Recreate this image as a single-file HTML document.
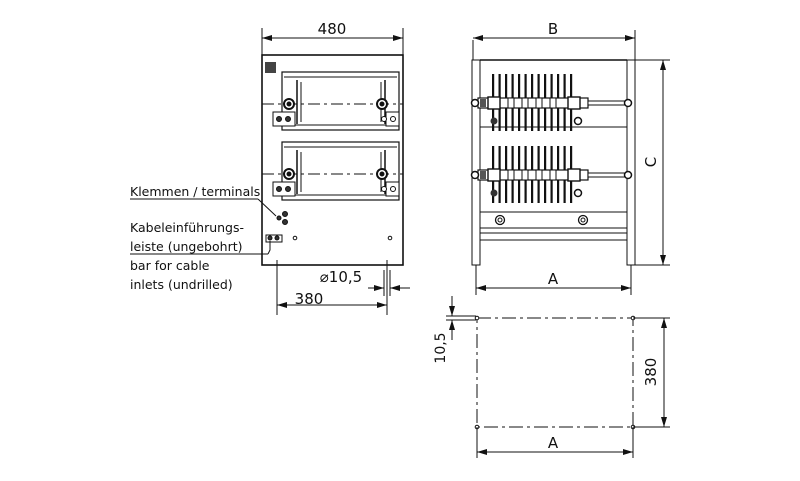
<!DOCTYPE html>
<html><head><meta charset="utf-8"><style>
html,body{margin:0;padding:0;background:#fff;}
svg{display:block;}
text{font-family:"DejaVu Sans","Liberation Sans",sans-serif;fill:#111;}
</style></head><body>
<svg width="800" height="481" viewBox="0 0 800 481" xmlns="http://www.w3.org/2000/svg">
<defs>
<marker id="a" viewBox="0 0 10 6" refX="10" refY="3" markerWidth="10" markerHeight="6" orient="auto-start-reverse" markerUnits="userSpaceOnUse"><path d="M0,0L10,3L0,6z" fill="#111"/></marker>
<g id="fin"><rect x="-1" y="0" width="2.2" height="57" fill="#111"/></g>
<g id="res">
 <rect x="478" y="-5" width="110" height="10" fill="#fff" stroke="#111" stroke-width="1.2"/>
 <rect x="488" y="-6" width="12" height="12" fill="#fff" stroke="#111" stroke-width="1.4"/>
 <rect x="568" y="-6" width="12" height="12" fill="#fff" stroke="#111" stroke-width="1.4"/>
 <rect x="508" y="-5" width="6" height="10" fill="#fff" stroke="#111"/>
 <rect x="522" y="-5" width="6" height="10" fill="#fff" stroke="#111"/>
 <rect x="536" y="-5" width="6" height="10" fill="#fff" stroke="#111"/>
 <rect x="550" y="-5" width="6" height="10" fill="#fff" stroke="#111"/>
 <rect x="480" y="-4" width="6" height="8" fill="#555"/>
 <rect x="588" y="-2" width="38" height="4" fill="#fff" stroke="#111"/>
 <circle cx="628" cy="0" r="3.5" fill="#fff" stroke="#111" stroke-width="1.5"/>
 <circle cx="475" cy="0" r="3.5" fill="#fff" stroke="#111" stroke-width="1.5"/>
 <circle cx="494" cy="18" r="3.5" fill="#333"/>
 <circle cx="578" cy="18" r="3.5" fill="#fff" stroke="#111" stroke-width="1.5"/>
</g>
<g id="frame">
 <rect x="282" y="0" width="117" height="58" fill="none" stroke="#111" stroke-width="1.2"/>
 <line x1="284" y1="5" x2="397" y2="5" stroke="#111"/>
 <line x1="284" y1="53" x2="397" y2="53" stroke="#111"/>
 <line x1="297" y1="8" x2="297" y2="52" stroke="#111" stroke-width="1.5"/>
 <line x1="301" y1="10" x2="301" y2="50" stroke="#111"/>
 <line x1="381" y1="10" x2="381" y2="50" stroke="#111"/>
 <line x1="385" y1="8" x2="385" y2="52" stroke="#111" stroke-width="1.5"/>
 <line x1="262" y1="32" x2="403" y2="32" stroke="#111" stroke-dasharray="12,4,3,4"/>
 <circle cx="289" cy="32" r="5" fill="#fff" stroke="#111" stroke-width="2"/><circle cx="289" cy="32" r="2" fill="#111"/>
 <circle cx="382" cy="32" r="5" fill="#fff" stroke="#111" stroke-width="2"/><circle cx="382" cy="32" r="2" fill="#111"/>
 <rect x="273" y="40" width="22" height="14" fill="#fff" stroke="#111"/>
 <rect x="386" y="40" width="13" height="14" fill="#fff" stroke="#111"/>
 <circle cx="279" cy="47" r="2.5" fill="#333"/><circle cx="288" cy="47" r="2.5" fill="#333"/>
 <circle cx="384" cy="47" r="2.5" fill="#fff" stroke="#111"/><circle cx="393" cy="47" r="2.5" fill="#fff" stroke="#111"/>
</g>
</defs>
<g stroke="#111" fill="none" stroke-width="1">
<!-- LEFT VIEW -->
<rect x="262" y="55" width="141" height="210" stroke-width="1.6"/>
<rect x="265" y="62" width="11" height="11" fill="#444" stroke="none"/>
<line x1="262" y1="28" x2="262" y2="55"/><line x1="403" y1="28" x2="403" y2="55"/>
<line x1="262" y1="38" x2="403" y2="38" marker-start="url(#a)" marker-end="url(#a)"/>
<use href="#frame" y="72"/>
<use href="#frame" y="142"/>
<circle cx="279" cy="218" r="2" fill="#333"/>
<circle cx="285" cy="214" r="2.5" fill="#333"/><circle cx="285" cy="222" r="2.5" fill="#333"/>
<rect x="266" y="235" width="16" height="7" fill="#fff"/>
<circle cx="270" cy="238" r="2" fill="#333"/><circle cx="277" cy="238" r="2" fill="#333"/>
<circle cx="295" cy="238" r="1.8"/><circle cx="390" cy="238" r="1.8"/>
<line x1="277" y1="260" x2="277" y2="315"/><line x1="387" y1="260" x2="387" y2="315"/>
<line x1="384" y1="270" x2="384" y2="296"/><line x1="390" y1="270" x2="390" y2="296"/>
<line x1="277" y1="305" x2="387" y2="305" marker-start="url(#a)" marker-end="url(#a)"/>
<line x1="368" y1="288" x2="384" y2="288" marker-end="url(#a)"/>
<line x1="410" y1="288" x2="390" y2="288" marker-end="url(#a)"/>
<!-- leaders -->
<line x1="130" y1="199" x2="258" y2="199"/><line x1="258" y1="199" x2="276" y2="216"/>
<line x1="130" y1="254" x2="268" y2="254"/><polyline points="268,254 270,250 270,241"/>
<!-- RIGHT VIEW -->
<rect x="472" y="60" width="8" height="205"/><rect x="627" y="60" width="8" height="205"/>
<line x1="480" y1="60" x2="627" y2="60" stroke-width="1.4"/>
<line x1="480" y1="127" x2="627" y2="127"/>
<rect x="480" y="212" width="147" height="16"/>
<line x1="480" y1="233" x2="627" y2="233"/><line x1="480" y1="240" x2="627" y2="240"/>
<circle cx="500" cy="220" r="4.5" stroke-width="1.3"/><circle cx="500" cy="220" r="2"/>
<circle cx="583" cy="220" r="4.5" stroke-width="1.3"/><circle cx="583" cy="220" r="2"/>
<line x1="473" y1="40" x2="473" y2="60"/><line x1="635" y1="30" x2="635" y2="60"/>
<line x1="473" y1="38" x2="635" y2="38" marker-start="url(#a)" marker-end="url(#a)"/>
<line x1="635" y1="60" x2="670" y2="60"/><line x1="635" y1="265" x2="670" y2="265"/>
<line x1="663" y1="60" x2="663" y2="265" marker-start="url(#a)" marker-end="url(#a)"/>
<line x1="476" y1="265" x2="476" y2="295"/><line x1="631" y1="265" x2="631" y2="295"/>
<line x1="476" y1="288" x2="631" y2="288" marker-start="url(#a)" marker-end="url(#a)"/>
</g>
<g>
<use href="#fin" x="493" y="74"/><use href="#fin" x="499.5" y="74"/><use href="#fin" x="506" y="74"/><use href="#fin" x="512.5" y="74"/><use href="#fin" x="519" y="74"/><use href="#fin" x="525.5" y="74"/><use href="#fin" x="532" y="74"/><use href="#fin" x="538.5" y="74"/><use href="#fin" x="545" y="74"/><use href="#fin" x="551.5" y="74"/><use href="#fin" x="558" y="74"/><use href="#fin" x="564.5" y="74"/><use href="#fin" x="571" y="74"/>
<use href="#fin" x="493" y="146"/><use href="#fin" x="499.5" y="146"/><use href="#fin" x="506" y="146"/><use href="#fin" x="512.5" y="146"/><use href="#fin" x="519" y="146"/><use href="#fin" x="525.5" y="146"/><use href="#fin" x="532" y="146"/><use href="#fin" x="538.5" y="146"/><use href="#fin" x="545" y="146"/><use href="#fin" x="551.5" y="146"/><use href="#fin" x="558" y="146"/><use href="#fin" x="564.5" y="146"/><use href="#fin" x="571" y="146"/>
<use href="#res" y="103"/><use href="#res" y="175"/>
</g>
<!-- BOTTOM VIEW -->
<g stroke="#111" fill="none" stroke-width="1">
<rect x="477" y="318" width="156" height="109" stroke-dasharray="14,4,3,4"/>
<circle cx="477" cy="318" r="1.8" fill="#fff"/><circle cx="633" cy="318" r="1.8" fill="#fff"/>
<circle cx="477" cy="427" r="1.8" fill="#fff"/><circle cx="633" cy="427" r="1.8" fill="#fff"/>
<line x1="633" y1="318" x2="670" y2="318"/><line x1="633" y1="427" x2="670" y2="427"/>
<line x1="664" y1="318" x2="664" y2="427" marker-start="url(#a)" marker-end="url(#a)"/>
<line x1="477" y1="427" x2="477" y2="458"/><line x1="633" y1="427" x2="633" y2="458"/>
<line x1="477" y1="452" x2="633" y2="452" marker-start="url(#a)" marker-end="url(#a)"/>
<line x1="446" y1="316" x2="476" y2="316"/><line x1="446" y1="320" x2="476" y2="320"/>
<line x1="452" y1="296" x2="452" y2="316" marker-end="url(#a)"/>
<line x1="452" y1="340" x2="452" y2="320" marker-end="url(#a)"/>
</g>
<g font-size="14">
<text x="332" y="34" text-anchor="middle" font-size="15">480</text>
<text x="553" y="34" text-anchor="middle" font-size="15">B</text>
<text x="553" y="284" text-anchor="middle" font-size="15">A</text>
<text x="553" y="448" text-anchor="middle" font-size="15">A</text>
<text x="309" y="304" text-anchor="middle" font-size="15">380</text>
<text x="341" y="282" text-anchor="middle" font-size="15">⌀10,5</text>
<text transform="translate(656,162) rotate(-90)" text-anchor="middle" font-size="15">C</text>
<text transform="translate(656,372) rotate(-90)" text-anchor="middle" font-size="15">380</text>
<text transform="translate(445,348) rotate(-90)" text-anchor="middle" font-size="14">10,5</text>
<g font-size="12.5">
<text x="130" y="196">Klemmen / terminals</text>
<text x="130" y="232">Kabeleinführungs-</text>
<text x="130" y="251">leiste (ungebohrt)</text>
<text x="130" y="270">bar for cable</text>
<text x="130" y="289">inlets (undrilled)</text>
</g>
</g>
</svg>
</body></html>
